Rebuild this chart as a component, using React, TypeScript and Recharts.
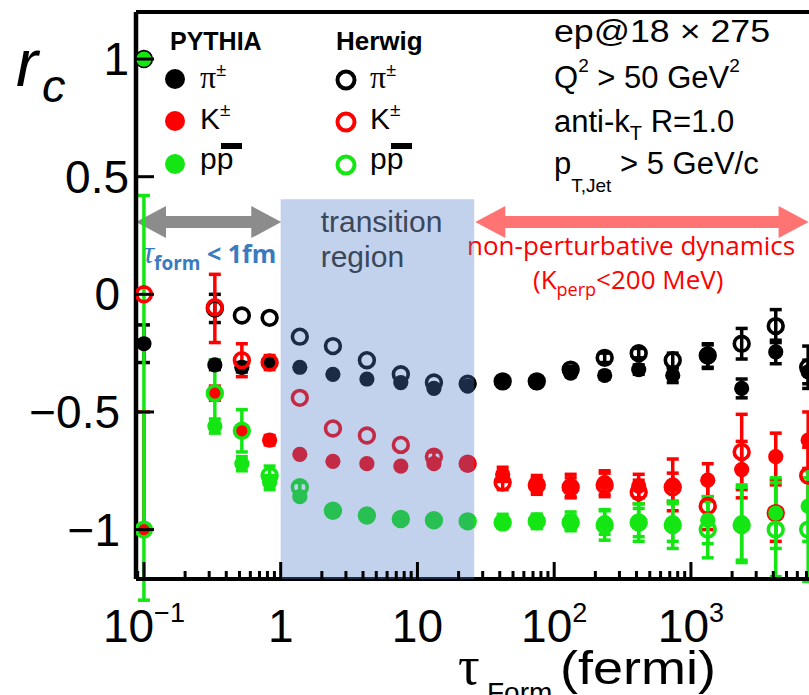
import React from 'react';
import { ScatterChart, Scatter, XAxis, YAxis, ErrorBar, ReferenceArea, ReferenceLine } from 'recharts';

// formation time bins (fermi)
const tau = [0.1, 0.33, 0.52, 0.83, 1.38, 2.41, 4.27, 7.56, 13.2, 23.3, 42, 74.6, 132, 234, 415, 736, 1327, 2350, 4170, 7200];

const piPythia = [-0.21, -0.3, -0.31, -0.29, -0.31, -0.34, -0.36, -0.375, -0.4, -0.39, -0.37, -0.375, -0.335, -0.345, -0.32, -0.345, -0.265, -0.4, -0.245, -0.33];
const piPythiaErr = [0.08, 0.02, 0.02, 0, 0, 0, 0, 0, 0, 0, 0, 0, 0.015, 0.015, 0.02, 0.03, 0.05, 0.04, 0.05, 0.05];
const piHerwig = [1.0, -0.06, -0.09, -0.1, -0.18, -0.22, -0.28, -0.34, -0.375, -0.38, -0.37, -0.37, -0.32, -0.27, -0.25, -0.28, -0.26, -0.21, -0.135, -0.31];
const piHerwigErr = [0, 0.06, 0, 0, 0, 0, 0, 0, 0, 0, 0, 0, 0.015, 0.02, 0.02, 0.03, 0.05, 0.065, 0.07, 0.09];

const kPythia = [-1.0, -0.42, -0.58, -0.62, -0.68, -0.71, -0.72, -0.73, -0.72, -0.72, -0.765, -0.81, -0.815, -0.8, -0.815, -0.81, -0.79, -0.745, -0.69, -0.62];
const kPythiaErr = [[0, 0.5], 0.03, 0.02, 0.02, 0, 0, 0, 0, 0, 0, 0.03, 0.04, 0.05, 0.05, 0.05, 0.11, 0.07, 0.12, 0.1, 0.12];
const kHerwig = [0.0, -0.055, -0.28, -0.29, -0.44, -0.57, -0.6, -0.64, -0.69, -0.72, -0.8, -0.81, -0.82, -0.81, -0.84, -0.82, -0.9, -0.67, -0.93, -0.77];
const kHerwigErr = [0, [0.15, 0.14], 0.07, 0.03, 0, 0, 0, 0, 0.02, 0.02, 0.03, 0.03, 0.04, 0.05, 0.05, 0.06, 0.1, 0.16, 0.12, 0.12];

const pPythia = [1.0, -0.56, -0.72, -0.8, -0.86, -0.92, -0.94, -0.955, -0.957, -0.965, -0.965, -0.965, -0.965, -0.97, -0.97, -0.97, -0.96, -0.97, -0.93, -0.9];
const pPythiaErr = [0, 0.03, 0.03, 0.03, 0, 0, 0, 0, 0, 0, 0.03, 0.03, 0.04, 0.05, 0.06, 0.08, 0.1, 0.16, 0.15, 0.15];
const pHerwig = [-1.0, -0.42, -0.58, -0.77, -0.82, -0.92, -0.94, -0.955, -0.96, -0.965, -0.97, -0.965, -0.97, -0.98, -0.97, -0.98, -1.0, -0.98, -1.0, -1.0];
const pHerwigErr = [[0.3, 1.42], 0.14, 0.09, 0.04, 0.02, 0, 0, 0, 0, 0, 0.02, 0.03, 0.03, 0.065, 0.08, 0.1, 0.12, 0.16, 0.2, 0.22];

// axes
const X_DOMAIN = [0.0875, 7300];
const Y_DOMAIN = [-1.21, 1.2];
const xMajorTicks = [0.1, 1, 10, 100, 1000];
const xTickBase = ['10', '1', '10', '10', '10'];
const xTickExp = ['\u22121', '', '', '2', '3'];
const yTicks = [-1, -0.5, 0, 0.5, 1];
const yTickLabels = ['\u22121', '\u22120.5', '0', '0.5', '1'];

// annotation regions (data coordinates)
const transitionRange = [1, 26];
const transitionTop = 0.404;
const arrowLevel = 0.307;
const perturbativeArrow = [0.0875, 1.01];
const nonPertArrow = [26.5, 7250];

const BLACK = '#000000';
const RED = '#ff0000';
const GREEN = '#14e614';

const allXTicks: number[] = [];
for (let d = -2; d <= 3; d++) {
  for (let m = 1; m <= 9; m++) {
    const v = m * Math.pow(10, d);
    if (v >= X_DOMAIN[0] && v <= X_DOMAIN[1]) allXTicks.push(v);
  }
}

const mk = (ys: number[], errs: any[]) => tau.map((x, i) => ({ x, y: ys[i], e: errs[i] }));

const filled = (color: string) => (p: any) => <circle cx={p.cx} cy={p.cy} r={7.6} fill={color} />;
const open = (color: string) => (p: any) => (
  <circle cx={p.cx} cy={p.cy} r={7.4} fill="none" stroke={color} strokeWidth={3.6} />
);

const XTick = (props: any) => {
  const { x, y, payload } = props;
  const v = payload.value;
  const idx = xMajorTicks.findIndex((t) => Math.abs(Math.log10(t) - Math.log10(v)) < 1e-6);
  const major = idx >= 0;
  return (
    <g>
      <line x1={x} x2={x} y1={y} y2={y - (major ? 17 : 8)} stroke="#000" strokeWidth={3} />
      {major && (
        <text x={x} y={y + 63} textAnchor="middle" fontSize={46} fontFamily="Liberation Sans" fill="#000">
          {xTickBase[idx]}
          {xTickExp[idx] && (
            <tspan dy={-20} fontSize={27}>
              {xTickExp[idx]}
            </tspan>
          )}
        </text>
      )}
    </g>
  );
};

const YTick = (props: any) => {
  const { x, y, payload } = props;
  const v = payload.value;
  const idx = yTicks.findIndex((t) => Math.abs(t - v) < 1e-9);
  const endX = v > 0 ? x - 7 : x - 16;
  return (
    <g>
      <line x1={x} x2={x + 18} y1={y} y2={y} stroke="#000" strokeWidth={3} />
      <text x={endX} y={y + 16} textAnchor="end" fontSize={46} fontFamily="Liberation Sans" fill="#000">
        {idx >= 0 ? yTickLabels[idx] : ''}
      </text>
    </g>
  );
};

const DoubleArrow = (props: any) => {
  const { x1, y1, x2, color } = props;
  const h = 30;
  const hw = 16;
  const sw = 6;
  const y = y1;
  const pts = [
    [x1, y], [x1 + h, y - hw], [x1 + h, y - sw], [x2 - h, y - sw], [x2 - h, y - hw],
    [x2, y], [x2 - h, y + hw], [x2 - h, y + sw], [x1 + h, y + sw], [x1 + h, y + hw],
  ];
  return <polygon points={pts.map((p) => p.join(',')).join(' ')} fill={color} />;
};

const TransitionLabel = (props: any) => {
  const vb = props.viewBox || { x: 0, y: 0 };
  return (
    <g fontFamily="Liberation Sans" fontSize={30} fill="#3a475a">
      <text x={vb.x + 40} y={vb.y + 33}>transition</text>
      <text x={vb.x + 40} y={vb.y + 68}>region</text>
    </g>
  );
};

const LegendBlock = () => {
  const rows = [
    { y: 79, c: BLACK },
    { y: 121, c: RED },
    { y: 164, c: GREEN },
  ];
  const labels = (x: number) => (
    <g fill="#000">
      <text x={x} y={88} fontSize={32} fontFamily="Liberation Serif">
        π<tspan dy={-12} fontSize={18} fontFamily="Liberation Sans">±</tspan>
      </text>
      <text x={x} y={129} fontSize={30} fontFamily="Liberation Sans">
        K<tspan dy={-13} fontSize={19}>±</tspan>
      </text>
      <text x={x} y={169} fontSize={30} fontFamily="Liberation Sans">pp</text>
      <rect x={x + 21} y={143} width={21} height={6} fill="#000" />
    </g>
  );
  return (
    <g>
      <text x={170} y={50} fontSize={25} fontWeight="bold" fontFamily="Liberation Sans">PYTHIA</text>
      <text x={336} y={50} fontSize={26} fontWeight="bold" fontFamily="Liberation Sans">Herwig</text>
      {rows.map((r, i) => (
        <circle key={'f' + i} cx={175} cy={r.y} r={10} fill={r.c} />
      ))}
      {rows.map((r, i) => (
        <circle key={'o' + i} cx={346} cy={r.y + 1} r={8.5} fill="none" stroke={r.c} strokeWidth={4} />
      ))}
      {labels(200)}
      {labels(370)}
    </g>
  );
};

const InfoBlock = () => (
  <g fontFamily="Liberation Sans" fontSize={31} fill="#000">
    <text x={554} y={42} textLength={216} lengthAdjust="spacingAndGlyphs">ep@18 × 275</text>
    <text x={554} y={88}>
      Q<tspan dy={-16} fontSize={19}>2</tspan>
      <tspan dy={16}> &gt; 50 GeV</tspan>
      <tspan dy={-16} fontSize={19}>2</tspan>
    </text>
    <text x={554} y={132}>
      anti-k<tspan dy={8} fontSize={20}>T</tspan>
      <tspan dy={-8}> R=1.0</tspan>
    </text>
    <text x={554} y={174}>
      p<tspan dy={18} fontSize={19}>T,Jet</tspan>
      <tspan dy={-18}> &gt; 5 GeV/c</tspan>
    </text>
  </g>
);

const Annotations = () => (
  <g>
    <text x={16} y={86} fontSize={66} fontStyle="italic" fontFamily="Liberation Sans">r</text>
    <text x={42} y={102} fontSize={47} fontStyle="italic" fontFamily="Liberation Sans">c</text>
    <text x={458} y={684} fontSize={54} fontFamily="Liberation Serif">τ</text>
    <text x={487} y={702} fontSize={28} fontFamily="Liberation Sans">Form</text>
    <text x={560} y={684} fontSize={46} fontFamily="Liberation Sans" textLength={156} lengthAdjust="spacingAndGlyphs">(fermi)</text>
    <text x={143} y={263} fill="#3a7abf" fontFamily="Open Sans" fontWeight="bold">
      <tspan fontSize={31} fontStyle="italic" fontFamily="Liberation Serif" fontWeight="normal">τ</tspan>
      <tspan dy={7} fontSize={19}>form</tspan>
      <tspan dy={-7} fontSize={25}> &lt; 1fm</tspan>
    </text>
    <text x={467} y={255} fontSize={26} fontFamily="Open Sans" fill={RED}>non-perturbative dynamics</text>
    <text x={533} y={289} fontSize={26} fontFamily="Open Sans" fill={RED}>
      (K<tspan dy={7} fontSize={18}>perp</tspan>
      <tspan dy={-7}>&lt;200 MeV)</tspan>
    </text>
    <LegendBlock />
    <InfoBlock />
  </g>
);

const series = [
  { d: mk(piPythia, piPythiaErr), c: BLACK, f: true },
  { d: mk(piHerwig, piHerwigErr), c: BLACK, f: false },
  { d: mk(kPythia, kPythiaErr), c: RED, f: true },
  { d: mk(kHerwig, kHerwigErr), c: RED, f: false },
  { d: mk(pPythia, pPythiaErr), c: GREEN, f: true },
  { d: mk(pHerwig, pHerwigErr), c: GREEN, f: false },
];

export default function App() {
  return (
    <div style={{ position: 'absolute', left: 0, top: 0, width: 809, height: 695, background: '#fff' }}>
      <ScatterChart width={809} height={695} margin={{ top: 12, right: 0, bottom: 56, left: 0 }}>
        <XAxis
          dataKey="x"
          type="number"
          scale="log"
          domain={X_DOMAIN}
          allowDataOverflow
          ticks={allXTicks}
          interval={0}
          height={60}
          tickSize={0}
          tickMargin={0}
          tickLine={false}
          tick={<XTick />}
          axisLine={{ stroke: '#000', strokeWidth: 4 }}
        />
        <YAxis
          dataKey="y"
          type="number"
          domain={Y_DOMAIN}
          allowDataOverflow
          ticks={yTicks}
          interval={0}
          width={136}
          tickSize={0}
          tickMargin={0}
          tickLine={false}
          tick={<YTick />}
          axisLine={{ stroke: '#000', strokeWidth: 4.5 }}
        />
        <ReferenceLine y={Y_DOMAIN[1]} stroke="#000" strokeWidth={4} ifOverflow="visible" />
        <ReferenceLine
          segment={[{ x: perturbativeArrow[0], y: arrowLevel }, { x: perturbativeArrow[1], y: arrowLevel }]}
          ifOverflow="visible"
          shape={(p: any) => <DoubleArrow {...p} color="#8c8c8c" />}
        />
        <ReferenceLine
          segment={[{ x: nonPertArrow[0], y: arrowLevel }, { x: nonPertArrow[1], y: arrowLevel }]}
          ifOverflow="visible"
          shape={(p: any) => <DoubleArrow {...p} color="#ff7373" />}
        />
        {series.map((s, i) => (
          <Scatter
            key={i}
            data={s.d}
            dataKey="y"
            isAnimationActive={false}
            shape={s.f ? filled(s.c) : open(s.c)}
          >
            <ErrorBar dataKey="e" direction="y" stroke={s.c} strokeWidth={3.5} width={6} isAnimationActive={false} />
          </Scatter>
        ))}
        <ReferenceArea
          x1={transitionRange[0]}
          x2={transitionRange[1]}
          y1={Y_DOMAIN[0]}
          y2={transitionTop}
          fill="#4e7ac8"
          fillOpacity={0.345}
          stroke="none"
          ifOverflow="visible"
          zIndex={1500}
          label={<TransitionLabel />}
        />
        <Annotations />
      </ScatterChart>
    </div>
  );
}
